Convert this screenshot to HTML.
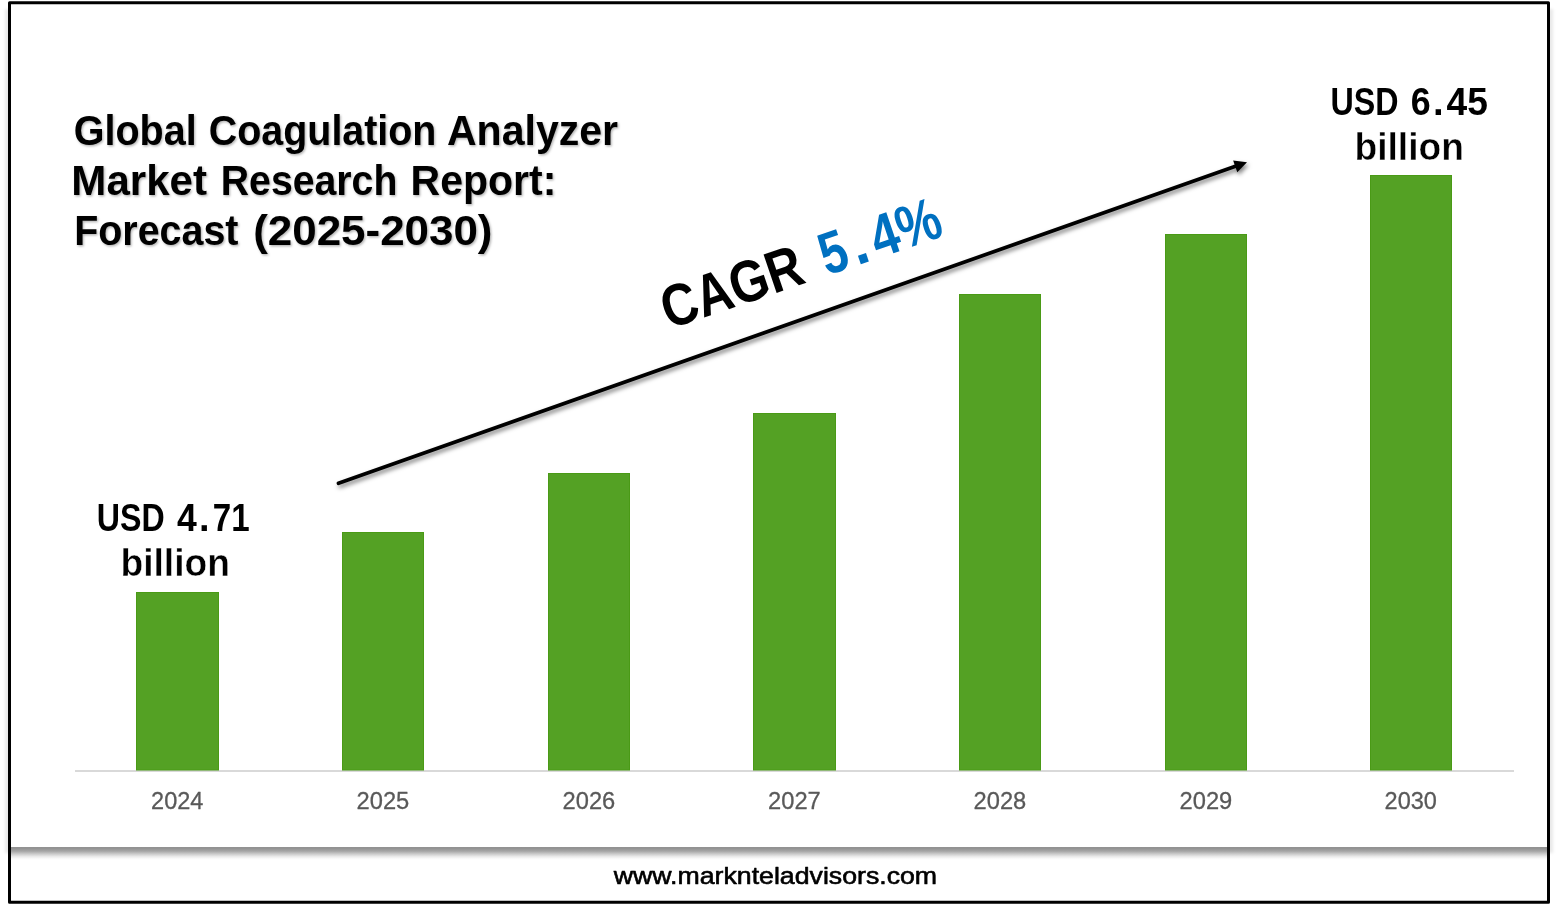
<!DOCTYPE html>
<html><head><meta charset="utf-8"><title>Global Coagulation Analyzer Market</title>
<style>
html,body{margin:0;padding:0;background:#fff;}
body{width:1557px;height:906px;overflow:hidden;}
svg{display:block;will-change:transform;font-family:"Liberation Sans","DejaVu Sans",Arial,sans-serif;}
</style></head><body>
<svg width="1557" height="906" viewBox="0 0 1557 906">
<defs>
 <filter id="tsh" x="-5%" y="-20%" width="110%" height="150%">
  <feDropShadow dx="1.2" dy="1.4" stdDeviation="0.9" flood-color="#000" flood-opacity="0.3"/>
 </filter>
 <filter id="ash" x="-5%" y="-50%" width="110%" height="200%">
  <feDropShadow dx="1.6" dy="2.8" stdDeviation="2.0" flood-color="#000" flood-opacity="0.5"/>
 </filter>
 <filter id="fblur" x="-1%" y="-2%" width="102%" height="104%"><feGaussianBlur stdDeviation="1.4"/></filter>
 <linearGradient id="sep" x1="0" y1="0" x2="0" y2="1">
  <stop offset="0" stop-color="#919191"/>
  <stop offset="0.12" stop-color="#939393"/>
  <stop offset="0.32" stop-color="#a6a6a6"/>
  <stop offset="0.52" stop-color="#c8c8c8"/>
  <stop offset="0.72" stop-color="#e8e8e8"/>
  <stop offset="0.88" stop-color="#f8f8f8"/>
  <stop offset="1" stop-color="#ffffff"/>
 </linearGradient>
</defs>
<rect x="0" y="0" width="1557" height="906" fill="#fff"/>
<rect x="5" y="9" width="1548" height="844" fill="#000" fill-opacity="0.085" filter="url(#fblur)"/>
<rect x="9.5" y="2.7" width="1539" height="899.6" fill="#fff" stroke="#000" stroke-width="3" stroke-linejoin="round"/>
<rect x="11" y="847" width="1536" height="13" fill="url(#sep)"/>
<rect x="75" y="770" width="1439" height="2" fill="#D9D9D9"/>
<rect x="136.5" y="592.5" width="82" height="177.5" fill="#54A124" stroke="#4A9A16" stroke-width="1"/><rect x="342.5" y="532.5" width="81" height="237.5" fill="#54A124" stroke="#4A9A16" stroke-width="1"/><rect x="548.5" y="473.5" width="81" height="296.5" fill="#54A124" stroke="#4A9A16" stroke-width="1"/><rect x="753.5" y="413.5" width="82" height="356.5" fill="#54A124" stroke="#4A9A16" stroke-width="1"/><rect x="959.5" y="294.5" width="81" height="475.5" fill="#54A124" stroke="#4A9A16" stroke-width="1"/><rect x="1165.5" y="234.5" width="81" height="535.5" fill="#54A124" stroke="#4A9A16" stroke-width="1"/><rect x="1370.5" y="175.5" width="81" height="594.5" fill="#54A124" stroke="#4A9A16" stroke-width="1"/>
<g filter="url(#ash)">
 <g transform="translate(338.5,483.3) rotate(-19.4654)">
  <line x1="0" y1="0" x2="952.08" y2="0" stroke="#000" stroke-width="3.7" stroke-linecap="round"/>
  <path d="M963.58,0 L951.08,-6.25 L951.08,6.25 Z" fill="#000"/>
 </g>
</g>
<text transform="translate(73.76,144.70) scale(0.9357,1)" font-size="42.24" font-weight="bold" fill="#000" filter="url(#tsh)">Global</text><text transform="translate(208.87,144.70) scale(0.9328,1)" font-size="42.24" font-weight="bold" fill="#000" filter="url(#tsh)">Coagulation</text><text transform="translate(446.96,144.70) scale(0.9719,1)" font-size="42.24" font-weight="bold" fill="#000" filter="url(#tsh)">Analyzer</text><text transform="translate(71.37,194.90) scale(0.9796,1)" font-size="42.95" font-weight="bold" fill="#000" filter="url(#tsh)">Market</text><text transform="translate(220.75,194.90) scale(0.9134,1)" font-size="42.95" font-weight="bold" fill="#000" filter="url(#tsh)">Research</text><text transform="translate(410.54,194.90) scale(0.9553,1)" font-size="42.95" font-weight="bold" fill="#000" filter="url(#tsh)">Report:</text><text transform="translate(74.24,244.90) scale(0.9235,1)" font-size="42.67" font-weight="bold" fill="#000" filter="url(#tsh)">Forecast</text><text transform="translate(253.14,244.90) scale(1.0301,1)" font-size="42.67" font-weight="bold" fill="#000" filter="url(#tsh)">(2025-2030)</text><text transform="translate(96.79,530.70) scale(0.8472,1)" font-size="37.97" font-weight="bold" fill="#000">USD</text><text transform="translate(176.90,530.70) scale(0.9363,1)" font-size="37.97" font-weight="bold" fill="#000">4</text><text transform="translate(199.06,530.70) scale(1.0000,1)" font-size="37.97" font-weight="bold" fill="#000">.</text><text transform="translate(212.86,530.70) scale(0.8727,1)" font-size="37.97" font-weight="bold" fill="#000">71</text><text transform="translate(120.47,576.00) scale(0.9689,1)" font-size="38.40" font-weight="bold" fill="#000" stroke="#fff" stroke-width="0.4">billion</text><text transform="translate(1330.59,115.00) scale(0.8391,1)" font-size="38.40" font-weight="bold" fill="#000">USD</text><text transform="translate(1410.78,115.00) scale(0.9323,1)" font-size="38.40" font-weight="bold" fill="#000">6</text><text transform="translate(1433.10,115.00) scale(1.0000,1)" font-size="38.40" font-weight="bold" fill="#000">.</text><text transform="translate(1446.60,115.00) scale(0.9675,1)" font-size="38.40" font-weight="bold" fill="#000">45</text><text transform="translate(1354.47,160.20) scale(0.9620,1)" font-size="38.67" font-weight="bold" fill="#000" stroke="#fff" stroke-width="0.4">billion</text><text transform="translate(613.72,883.90) scale(1.1254,1)" font-size="23.72" font-weight="normal" fill="#000" stroke="#000" stroke-width="0.6" stroke-linejoin="round">www.marknteladvisors.com</text><g transform="translate(701.3,318.6) rotate(-18.8)"><text transform="translate(-34.15,0.00) scale(0.8410,1)" font-size="59.16" font-weight="bold" fill="#000">CAGR</text></g><g transform="translate(701.3,318.6) rotate(-18.8)"><text transform="translate(132.85,0.00) scale(0.8084,1)" font-size="59.73" font-weight="bold" fill="#0070C0">5</text></g><g transform="translate(701.3,318.6) rotate(-18.8)"><text transform="translate(164.60,0.00) scale(1.0000,1)" font-size="59.73" font-weight="bold" fill="#0070C0">.</text></g><g transform="translate(701.3,318.6) rotate(-18.8)"><text transform="translate(186.60,0.00) scale(0.8282,1)" font-size="59.73" font-weight="bold" fill="#0070C0">4%</text></g><text transform="translate(151.05,808.55) scale(0.9627,1)" font-size="24.46" font-weight="normal" fill="#595959" stroke="#595959" stroke-width="0.3" stroke-linejoin="round">2024</text><text transform="translate(356.54,808.55) scale(0.9698,1)" font-size="24.46" font-weight="normal" fill="#595959" stroke="#595959" stroke-width="0.3" stroke-linejoin="round">2025</text><text transform="translate(562.54,808.55) scale(0.9698,1)" font-size="24.46" font-weight="normal" fill="#595959" stroke="#595959" stroke-width="0.3" stroke-linejoin="round">2026</text><text transform="translate(768.04,808.55) scale(0.9698,1)" font-size="24.46" font-weight="normal" fill="#595959" stroke="#595959" stroke-width="0.3" stroke-linejoin="round">2027</text><text transform="translate(973.54,808.55) scale(0.9698,1)" font-size="24.46" font-weight="normal" fill="#595959" stroke="#595959" stroke-width="0.3" stroke-linejoin="round">2028</text><text transform="translate(1179.54,808.55) scale(0.9698,1)" font-size="24.46" font-weight="normal" fill="#595959" stroke="#595959" stroke-width="0.3" stroke-linejoin="round">2029</text><text transform="translate(1384.55,808.55) scale(0.9627,1)" font-size="24.46" font-weight="normal" fill="#595959" stroke="#595959" stroke-width="0.3" stroke-linejoin="round">2030</text>
</svg>
</body></html>
